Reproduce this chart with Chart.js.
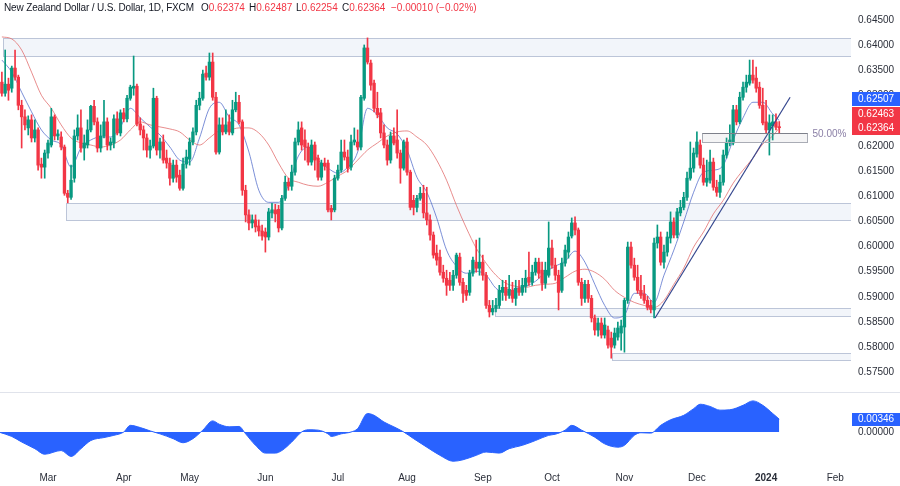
<!DOCTYPE html>
<html><head><meta charset="utf-8">
<script src="https://cdn.jsdelivr.net/npm/chart.js@4.4.1/dist/chart.umd.min.js"></script>
<style>
html,body{margin:0;padding:0;background:#fff;}
#wrap{position:relative;width:900px;height:486px;overflow:hidden;background:#fff;font-family:'Liberation Sans',Arial,sans-serif;}
#main{position:absolute;left:0;top:0;}
#osc{position:absolute;left:0;top:393px;}
#sep{position:absolute;left:0;top:392px;width:900px;height:1px;background:#e0e3eb;}
.h{position:absolute;top:1px;font-size:10px;line-height:13px;color:#131722;white-space:nowrap;}
.t{letter-spacing:-0.15px;}
.r{color:#f23645;}
</style></head><body>
<div id="wrap">
<canvas id="main" width="900" height="392"></canvas>
<div id="sep"></div>
<canvas id="osc" width="900" height="93"></canvas>
<div id="hdr"></div>
</div>
<script>
// ---------------- data ----------------
const symbolTitle = 'New Zealand Dollar / U.S. Dollar, 1D, FXCM';
const startIndex = -14; // bar index of first candle (0 = 1 Mar 2023)
const opens = [
0.6327,0.6305,0.6323,0.6315,0.6355,0.6337,0.6281,0.6258,0.6236,0.6252,
0.6216,0.6232,0.6164,0.6158,0.6186,0.6202,0.6258,0.6220,0.6218,0.6198,
0.6106,0.6098,0.6136,0.6220,0.6236,0.6196,0.6202,0.6232,0.6279,0.6248,
0.6196,0.6220,0.6248,0.6202,0.6206,0.6254,0.6226,0.6266,0.6254,0.6295,
0.6315,0.6319,0.6244,0.6232,0.6216,0.6192,0.6200,0.6295,0.6192,0.6208,
0.6176,0.6166,0.6136,0.6162,0.6142,0.6116,0.6164,0.6174,0.6208,0.6228,
0.6281,0.6295,0.6345,0.6337,0.6367,0.6297,0.6188,0.6242,0.6228,0.6248,
0.6226,0.6272,0.6287,0.6248,0.6112,0.6063,0.6047,0.6053,0.6041,0.6031,
0.6029,0.6019,0.6067,0.6073,0.6074,0.6037,0.6096,0.6128,0.6120,0.6148,
0.6208,0.6236,0.6212,0.6198,0.6168,0.6202,0.6176,0.6138,0.6166,0.6166,
0.6076,0.6073,0.6136,0.6152,0.6188,0.6178,0.6158,0.6208,0.6208,0.6198,
0.6295,0.6395,0.6365,0.6325,0.6275,0.6266,0.6226,0.6202,0.6172,0.6220,
0.6212,0.6186,0.6156,0.6208,0.6148,0.6092,0.6078,0.6096,0.6106,0.6067,
0.6053,0.6023,0.5987,0.5979,0.5949,0.5937,0.5933,0.5923,0.5943,0.5979,
0.5929,0.5913,0.5909,0.5947,0.5969,0.5957,0.5969,0.5943,0.5883,0.5870,
0.5877,0.5883,0.5909,0.5919,0.5903,0.5913,0.5897,0.5917,0.5909,0.5921,
0.5939,0.5929,0.5949,0.5969,0.5953,0.5927,0.5943,0.5997,0.5963,0.5943,
0.5913,0.5967,0.5989,0.6021,0.6047,0.6033,0.5929,0.5897,0.5925,0.5897,
0.5858,0.5834,0.5848,0.5824,0.5834,0.5818,0.5804,0.5820,0.5828,0.5840,
0.5893,0.5999,0.5963,0.5939,0.5913,0.5905,0.5893,0.5883,0.5874,0.6007,
0.6019,0.5969,0.5989,0.6017,0.6049,0.6023,0.6067,0.6078,0.6098,0.6136,
0.6156,0.6184,0.6202,0.6162,0.6128,0.6132,0.6168,0.6118,0.6108,0.6128,
0.6182,0.6206,0.6206,0.6272,0.6248,0.6297,0.6317,0.6325,0.6341,0.6335,
0.6317,0.6281,0.6248,0.6232,0.6240,0.6248,0.62374];
const highs = [
0.6347,0.6391,0.6335,0.6359,0.6391,0.6341,0.6291,0.6272,0.6260,0.6262,
0.6252,0.6236,0.6176,0.6192,0.6212,0.6275,0.6262,0.6232,0.6228,0.6202,
0.6112,0.6162,0.6232,0.6262,0.6272,0.6222,0.6252,0.6281,0.6291,0.6256,
0.6242,0.6291,0.6256,0.6216,0.6262,0.6268,0.6272,0.6275,0.6301,0.6321,
0.6379,0.6323,0.6256,0.6240,0.6224,0.6212,0.6315,0.6299,0.6216,0.6222,
0.6192,0.6176,0.6172,0.6172,0.6152,0.6176,0.6192,0.6216,0.6236,0.6291,
0.6307,0.6351,0.6359,0.6385,0.6385,0.6307,0.6256,0.6256,0.6272,0.6262,
0.6291,0.6307,0.6301,0.6252,0.6122,0.6073,0.6063,0.6063,0.6053,0.6043,
0.6037,0.6076,0.6086,0.6084,0.6082,0.6102,0.6140,0.6136,0.6162,0.6216,
0.6248,0.6248,0.6232,0.6206,0.6212,0.6208,0.6182,0.6172,0.6176,0.6172,
0.6082,0.6142,0.6162,0.6212,0.6212,0.6192,0.6222,0.6236,0.6232,0.6301,
0.6401,0.6415,0.6371,0.6331,0.6307,0.6275,0.6242,0.6212,0.6228,0.6236,
0.6272,0.6192,0.6212,0.6216,0.6152,0.6102,0.6102,0.6118,0.6122,0.6118,
0.6063,0.6029,0.6003,0.5993,0.5963,0.5953,0.5949,0.5953,0.5987,0.5987,
0.5937,0.5923,0.5953,0.5979,0.6013,0.6017,0.5983,0.5949,0.5893,0.5893,
0.5897,0.5923,0.5933,0.5933,0.5943,0.5929,0.5933,0.5933,0.5937,0.5953,
0.5989,0.5963,0.5977,0.5977,0.5969,0.5969,0.6049,0.6013,0.5977,0.5953,
0.5977,0.6003,0.6029,0.6057,0.6059,0.6037,0.5937,0.5933,0.5933,0.5903,
0.5864,0.5858,0.5858,0.5858,0.5842,0.5830,0.5838,0.5850,0.5854,0.5897,
0.6009,0.6009,0.5977,0.5963,0.5943,0.5923,0.5901,0.5893,0.6017,0.6043,
0.6029,0.6003,0.6029,0.6069,0.6057,0.6076,0.6092,0.6108,0.6148,0.6208,
0.6196,0.6228,0.6212,0.6176,0.6172,0.6192,0.6176,0.6132,0.6142,0.6192,
0.6216,0.6242,0.6281,0.6281,0.6307,0.6327,0.6341,0.6371,0.6371,0.6357,
0.6327,0.6315,0.6291,0.6262,0.6262,0.6264,0.62487];
const lows = [
0.6299,0.6299,0.6291,0.6307,0.6331,0.6272,0.6196,0.6232,0.6222,0.6208,
0.6208,0.6152,0.6136,0.6136,0.6176,0.6198,0.6212,0.6212,0.6192,0.6102,
0.6087,0.6094,0.6128,0.6212,0.6188,0.6172,0.6196,0.6228,0.6242,0.6188,
0.6188,0.6216,0.6192,0.6192,0.6196,0.6222,0.6220,0.6248,0.6248,0.6291,
0.6301,0.6240,0.6222,0.6192,0.6178,0.6176,0.6196,0.6182,0.6176,0.6166,
0.6156,0.6122,0.6128,0.6128,0.6112,0.6112,0.6156,0.6162,0.6202,0.6222,
0.6272,0.6291,0.6331,0.6331,0.6291,0.6184,0.6184,0.6222,0.6224,0.6222,
0.6222,0.6268,0.6244,0.6102,0.6049,0.6033,0.6037,0.6029,0.6021,0.6013,
0.5989,0.6013,0.6057,0.6049,0.6029,0.6033,0.6092,0.6112,0.6112,0.6142,
0.6202,0.6192,0.6172,0.6162,0.6162,0.6152,0.6132,0.6132,0.6152,0.6069,
0.6053,0.6069,0.6132,0.6148,0.6172,0.6148,0.6152,0.6202,0.6192,0.6192,
0.6291,0.6363,0.6311,0.6268,0.6256,0.6216,0.6196,0.6162,0.6166,0.6202,
0.6176,0.6126,0.6152,0.6142,0.6073,0.6063,0.6069,0.6092,0.6057,0.6043,
0.6013,0.5977,0.5963,0.5943,0.5929,0.5903,0.5913,0.5913,0.5937,0.5923,
0.5889,0.5893,0.5903,0.5941,0.5949,0.5943,0.5933,0.5877,0.5860,0.5864,
0.5870,0.5877,0.5893,0.5893,0.5897,0.5889,0.5883,0.5903,0.5903,0.5909,
0.5923,0.5923,0.5943,0.5937,0.5913,0.5917,0.5939,0.5957,0.5933,0.5874,
0.5909,0.5961,0.5977,0.6017,0.6023,0.5923,0.5883,0.5889,0.5889,0.5850,
0.5824,0.5822,0.5818,0.5818,0.5798,0.5778,0.5798,0.5814,0.5794,0.5790,
0.5887,0.5957,0.5933,0.5907,0.5897,0.5887,0.5874,0.5868,0.5858,0.5997,
0.5963,0.5957,0.5981,0.6007,0.6017,0.6017,0.6061,0.6073,0.6092,0.6132,
0.6148,0.6178,0.6156,0.6122,0.6120,0.6126,0.6112,0.6100,0.6098,0.6122,
0.6176,0.6200,0.6202,0.6242,0.6244,0.6291,0.6307,0.6321,0.6325,0.6307,
0.6275,0.6242,0.6226,0.6182,0.6212,0.6232,0.62254];
const closes = [
0.6305,0.6323,0.6311,0.6355,0.6337,0.6281,0.6258,0.6242,0.6252,0.6216,
0.6232,0.6162,0.6158,0.6186,0.6206,0.6258,0.6220,0.6224,0.6198,0.6106,
0.6098,0.6132,0.6220,0.6236,0.6196,0.6206,0.6232,0.6279,0.6248,0.6196,
0.6220,0.6248,0.6202,0.6208,0.6254,0.6226,0.6266,0.6254,0.6295,0.6317,
0.6319,0.6244,0.6232,0.6216,0.6192,0.6200,0.6295,0.6192,0.6208,0.6172,
0.6166,0.6136,0.6162,0.6138,0.6116,0.6164,0.6178,0.6208,0.6228,0.6281,
0.6295,0.6343,0.6337,0.6367,0.6297,0.6188,0.6242,0.6228,0.6242,0.6228,
0.6272,0.6287,0.6248,0.6112,0.6063,0.6047,0.6053,0.6039,0.6031,0.6021,
0.6019,0.6069,0.6073,0.6065,0.6037,0.6096,0.6128,0.6120,0.6148,0.6208,
0.6232,0.6202,0.6198,0.6168,0.6202,0.6172,0.6138,0.6166,0.6160,0.6073,
0.6069,0.6136,0.6152,0.6188,0.6178,0.6156,0.6208,0.6212,0.6198,0.6297,
0.6395,0.6367,0.6321,0.6275,0.6262,0.6226,0.6202,0.6172,0.6220,0.6206,
0.6186,0.6156,0.6208,0.6148,0.6078,0.6078,0.6096,0.6106,0.6067,0.6053,
0.6023,0.5983,0.5973,0.5949,0.5937,0.5923,0.5923,0.5943,0.5983,0.5929,
0.5907,0.5903,0.5947,0.5973,0.5957,0.5969,0.5943,0.5883,0.5870,0.5877,
0.5883,0.5913,0.5919,0.5903,0.5915,0.5897,0.5917,0.5909,0.5923,0.5937,
0.5929,0.5949,0.5969,0.5947,0.5927,0.5953,0.5997,0.5963,0.5943,0.5909,
0.5967,0.5993,0.6019,0.6047,0.6033,0.5929,0.5897,0.5925,0.5897,0.5858,
0.5834,0.5848,0.5824,0.5844,0.5804,0.5800,0.5828,0.5838,0.5842,0.5893,
0.5999,0.5963,0.5939,0.5913,0.5903,0.5893,0.5879,0.5875,0.6007,0.6019,
0.5969,0.5989,0.6019,0.6049,0.6023,0.6069,0.6078,0.6098,0.6136,0.6156,
0.6186,0.6208,0.6162,0.6128,0.6136,0.6168,0.6118,0.6108,0.6128,0.6182,
0.6206,0.6212,0.6272,0.6248,0.6297,0.6317,0.6327,0.6341,0.6331,0.6315,
0.6281,0.6246,0.6232,0.6246,0.6248,0.62374,0.62364];

// moving averages, read at these bar positions
const maIdx = [-14,-11,-8,-5,-2,1,4,7,10,13,16,19,22,25,28,31,34,37,40,43,46,49,52,55,58,61,64,67,70,73,76,79,82,85,88,91,94,97,100,103,106,109,112,115,118,121,124,127,130,133,136,139,142,145,148,151,154,157,160,163,166,169,172,175,178,181,184,187,190,193,196,199,202,205,208,211,214,217,220,222];
const fastMA = [
0.6371,0.6347,0.6307,0.6268,0.6232,0.6212,0.6202,0.6158,0.6196,0.6212,
0.6218,0.6218,0.6238,0.6275,0.6256,0.6238,0.6222,0.6198,0.6172,0.6168,
0.6216,0.6275,0.6287,0.6258,0.6242,0.6188,0.6112,0.6088,0.6088,0.6122,
0.6180,0.6198,0.6172,0.6156,0.6146,0.6158,0.6188,0.6275,0.6262,0.6236,
0.6224,0.6192,0.6138,0.6108,0.6057,0.5993,0.5961,0.5947,0.5951,0.5943,
0.5917,0.5909,0.5917,0.5921,0.5931,0.5949,0.5961,0.5971,0.5991,0.5969,
0.5925,0.5883,0.5858,0.5864,0.5907,0.5907,0.5889,0.5943,0.5993,0.6049,
0.6108,0.6148,0.6152,0.6162,0.6212,0.6256,0.6287,0.6287,0.6264,0.62507];
const slowMA = [
0.6417,0.6413,0.6391,0.6347,0.6301,0.6275,0.6242,0.6216,0.6206,0.6202,
0.6198,0.6202,0.6212,0.6232,0.6248,0.6242,0.6238,0.6234,0.6228,0.6212,
0.6202,0.6216,0.6230,0.6232,0.6236,0.6236,0.6226,0.6202,0.6166,0.6136,
0.6128,0.6122,0.6120,0.6128,0.6140,0.6152,0.6172,0.6192,0.6206,0.6220,
0.6228,0.6230,0.6218,0.6202,0.6172,0.6132,0.6082,0.6037,0.5997,0.5967,
0.5943,0.5927,0.5921,0.5919,0.5923,0.5925,0.5927,0.5939,0.5951,0.5955,
0.5949,0.5935,0.5913,0.5899,0.5889,0.5883,0.5879,0.5893,0.5925,0.5957,
0.5999,0.6029,0.6065,0.6092,0.6126,0.6152,0.6176,0.6204,0.6220,0.6236];
const axisMarks = [0.62507, 0.62463]; // blue / red value tags on the price axis

// oscillator (lower pane)
const oscIdx = [-15,-11,-8,-4,-1,4,7,10,13,17,20,23,25,28,31,34,38,41,44,47,50,52,55,58,60,63,66,69,71,74,77,79,82,85,86,89,92,94,97,99,102,105,108,111,115,119,123,126,130,133,137,140,144,148,152,154,157,159,162,166,169,173,175,178,180,183,186,189,193,196,198,201,204,207,211,214,217,220,222];
const oscVal = [0.0000,-0.0012,-0.0027,-0.0045,-0.0060,-0.0050,-0.0066,-0.0045,-0.0023,-0.0015,
-0.0009,0.0000,0.0018,0.0012,0.0003,-0.0005,-0.0018,-0.0029,-0.0018,0.0005,
0.0030,0.0021,0.0014,0.0015,-0.0005,-0.0036,-0.0057,-0.0057,-0.0050,-0.0027,
0.0000,0.0006,0.0005,-0.0005,-0.0012,-0.0005,0.0000,0.0009,0.0050,0.0045,
0.0027,0.0014,0.0000,-0.0018,-0.0041,-0.0063,-0.0079,-0.0075,-0.0063,-0.0054,
-0.0057,-0.0045,-0.0036,-0.0023,-0.0009,-0.0006,0.0005,0.0018,0.0005,-0.0014,
-0.0032,-0.0041,-0.0036,-0.0009,-0.0002,-0.0003,0.0018,0.0033,0.0045,0.0063,
0.0075,0.0069,0.0059,0.0060,0.0072,0.0084,0.0072,0.0050,0.00346];
const oscTicks = [0];

// drawings
const zoneStart  = [-13.7, 5.5, 135.7, 171.2];
const zoneTop    = [0.6415, 0.6086, 0.5878, 0.5788];
const zoneBottom = [0.6379, 0.6053, 0.5861, 0.5774];
const fibStart = 198.5, fibEnd = 230.4, fibTop = 0.6226, fibBottom = 0.6208, fibLabel = '50.00%';
const trendIdx = [184.3, 225.3];
const trendVal = [0.5858, 0.6297];

// axes
const priceTicks = [0.575,0.58,0.585,0.59,0.595,0.6,0.605,0.61,0.615,0.62,0.625,0.63,0.635,0.64,0.645];
const monthTickIdx = [0,23,43,66,88,109,132,153,175,197,218,239];
const monthTickLabels = ['Mar','Apr','May','Jun','Jul','Aug','Sep','Oct','Nov','Dec','2024','Feb'];

// ---------------- layout constants ----------------
const X_MIN = -14.57, X_MAX = 243.78;
const Y_MIN = 0.57108, Y_MAX = 0.64904;
const O_MIN = -0.01026, O_MAX = 0.01053;
const AXIS_W = 49;
const UP = '#089981', DN = '#f23645';
const FONT = "'Liberation Sans', Arial, sans-serif";
const TXT = '#2a2e39';

Chart.defaults.font.family = FONT;
Chart.defaults.font.size = 10;

// ---------------- header ----------------
const last = closes.length - 1;
const chg = closes[last] - closes[last - 1];
const pct = chg / closes[last - 1] * 100;
const fmt = v => (v < 0 ? '\u2212' : '') + Math.abs(v).toFixed(5);
const hdr = document.getElementById('hdr');
const parts = [
  [4, symbolTitle, '', 't'],
  [201, 'O', opens[last].toFixed(5), ''],
  [249, 'H', highs[last].toFixed(5), ''],
  [296, 'L', lows[last].toFixed(5), ''],
  [342, 'C', closes[last].toFixed(5), ''],
  [391, '', fmt(chg) + ' (' + (pct < 0 ? '\u2212' : '') + Math.abs(pct).toFixed(2) + '%)', '']
];
parts.forEach(p => {
  const d = document.createElement('div');
  d.className = 'h ' + p[3]; d.style.left = p[0] + 'px';
  d.innerHTML = p[1] + (p[2] ? '<span class="r">' + p[2] + '</span>' : '');
  hdr.appendChild(d);
});

// ---------------- main chart ----------------
const candleIdx = opens.map((_, k) => startIndex + k);
const colors = closes.map((c, k) => c >= opens[k] ? UP : DN);

const drawPlugin = {
  id: 'drawings',
  beforeDatasetsDraw(chart) {
    const {ctx, chartArea: a, scales: {x, y}} = chart;
    ctx.save();
    ctx.beginPath(); ctx.rect(a.left, a.top, a.right - a.left, a.bottom - a.top); ctx.clip();
    for (let k = 0; k < zoneStart.length; k++) {
      const x0 = Math.round(x.getPixelForValue(zoneStart[k])) + 0.5;
      const y0 = Math.round(y.getPixelForValue(zoneTop[k])) + 0.5;
      const y1 = Math.round(y.getPixelForValue(zoneBottom[k])) + 0.5;
      const w = a.right + 10 - x0;
      ctx.fillStyle = 'rgba(226,232,245,0.45)';
      ctx.fillRect(x0, y0, w, y1 - y0);
      ctx.strokeStyle = '#bcc5d8'; ctx.lineWidth = 1;
      ctx.strokeRect(x0, y0, w, y1 - y0);
    }
    ctx.restore();
  },
  afterDatasetsDraw(chart) {
    const {ctx, scales: {x, y}} = chart;
    const x0 = Math.round(x.getPixelForValue(fibStart)) + 0.5;
    const x1 = Math.round(x.getPixelForValue(fibEnd)) + 0.5;
    const y0 = Math.round(y.getPixelForValue(fibTop)) + 0.5;
    const y1 = Math.round(y.getPixelForValue(fibBottom)) + 0.5;
    ctx.save();
    ctx.fillStyle = 'rgba(149,152,161,0.10)';
    ctx.fillRect(x0, y0, x1 - x0, y1 - y0);
    ctx.strokeStyle = '#a9acb5'; ctx.lineWidth = 1;
    ctx.strokeRect(x0, y0, x1 - x0, y1 - y0);
    ctx.strokeStyle = '#7d808a';
    ctx.beginPath(); ctx.moveTo(x0, y0); ctx.lineTo(x1, y0); ctx.stroke();
    ctx.fillStyle = '#8a7fa6';
    ctx.font = '10px ' + FONT; ctx.textBaseline = 'middle'; ctx.textAlign = 'left';
    ctx.fillText(fibLabel, x1 + 5, y0 + 1);
    ctx.restore();
  },
  afterDraw(chart) {
    const {ctx, chartArea: a, scales: {y}} = chart;
    const h = 13.5;
    const yc = y.getPixelForValue(closes[last]);
    const tags = [
      {v: closes[last], c: DN, y: yc},
      {v: axisMarks[1], c: DN, y: yc - h},
      {v: axisMarks[0], c: '#2962ff', y: yc - 2 * h - 1.5}
    ];
    ctx.save();
    ctx.font = '10px ' + FONT; ctx.textBaseline = 'middle'; ctx.textAlign = 'left';
    tags.forEach(t => {
      ctx.fillStyle = t.c;
      ctx.fillRect(a.right + 1, Math.round(t.y - h / 2), 48, Math.round(h));
      ctx.fillStyle = '#ffffff';
      ctx.fillText(t.v.toFixed(5), a.right + 7, t.y + 0.5);
    });
    ctx.restore();
  }
};

new Chart(document.getElementById('main'), {
  type: 'bar',
  data: {
    datasets: [
      {type: 'line', label: 'fast MA', data: maIdx.map((v, k) => ({x: v, y: fastMA[k]})),
       borderColor: 'rgba(90,115,205,0.8)', borderWidth: 1, pointRadius: 0, cubicInterpolationMode: 'monotone', order: 6},
      {type: 'line', label: 'slow MA', data: maIdx.map((v, k) => ({x: v, y: slowMA[k]})),
       borderColor: 'rgba(226,112,112,0.8)', borderWidth: 1, pointRadius: 0, cubicInterpolationMode: 'monotone', order: 5},
      {type: 'bar', label: 'wicks', data: candleIdx.map((v, k) => ({x: v, y: [lows[k], highs[k]]})),
       backgroundColor: colors, barThickness: 1, grouped: false, order: 3},
      {type: 'bar', label: 'bodies', data: candleIdx.map((v, k) => ({x: v, y: [opens[k], closes[k]]})),
       backgroundColor: colors, barThickness: 2.7, grouped: false, minBarLength: 1, order: 2},
      {type: 'line', label: 'trend', data: trendIdx.map((v, k) => ({x: v, y: trendVal[k]})),
       borderColor: '#34468e', borderWidth: 1.2, pointRadius: 0, order: 1}
    ]
  },
  options: {
    responsive: false, animation: false, devicePixelRatio: 1, events: [],
    layout: {padding: 0},
    plugins: {legend: {display: false}, tooltip: {enabled: false}},
    scales: {
      x: {type: 'linear', min: X_MIN, max: X_MAX, display: false, offset: false},
      y: {
        position: 'right', min: Y_MIN, max: Y_MAX,
        grid: {display: false, drawTicks: false}, border: {display: false},
        afterBuildTicks: s => { s.ticks = priceTicks.map(v => ({value: v})); },
        afterFit: s => { s.width = AXIS_W; s.paddingTop = 0; s.paddingBottom = 0; },
        ticks: {padding: 7, color: TXT, font: {size: 10}, callback: v => Number(v).toFixed(5)}
      }
    }
  },
  plugins: [drawPlugin]
});

// ---------------- oscillator chart ----------------
const oscPlugin = {
  id: 'oscTag',
  afterDraw(chart) {
    const {ctx, chartArea: a, scales: {y}} = chart;
    const v = oscVal[oscVal.length - 1];
    const yy = y.getPixelForValue(v);
    ctx.save();
    ctx.fillStyle = '#2962ff';
    ctx.fillRect(a.right + 1, Math.round(yy - 6.5), 48, 13);
    ctx.fillStyle = '#fff'; ctx.font = '10px ' + FONT; ctx.textBaseline = 'middle';
    ctx.fillText(v.toFixed(5), a.right + 7, yy + 0.5);
    ctx.restore();
  }
};

new Chart(document.getElementById('osc'), {
  type: 'line',
  data: {
    datasets: [{
      data: oscIdx.map((v, k) => ({x: v, y: oscVal[k]})),
      borderColor: '#2962ff', borderWidth: 1, backgroundColor: '#2962ff',
      fill: 'origin', pointRadius: 0, cubicInterpolationMode: 'monotone'
    }]
  },
  options: {
    responsive: false, animation: false, devicePixelRatio: 1, events: [],
    layout: {padding: 0},
    plugins: {legend: {display: false}, tooltip: {enabled: false}},
    scales: {
      x: {
        type: 'linear', min: X_MIN, max: X_MAX, offset: false,
        grid: {display: false, drawTicks: false}, border: {display: false},
        afterBuildTicks: s => { s.ticks = monthTickIdx.map(v => ({value: v})); },
        afterFit: s => { s.paddingLeft = 0; s.paddingRight = 0; },
        ticks: {
          autoSkip: false, maxRotation: 0, padding: 2, color: TXT,
          font: c => ({size: 10, weight: monthTickLabels[c.index] === '2024' ? 'bold' : 'normal'}),
          callback: (v, i) => monthTickLabels[i]
        }
      },
      y: {
        position: 'right', min: O_MIN, max: O_MAX,
        grid: {display: false, drawTicks: false}, border: {display: false},
        afterBuildTicks: s => { s.ticks = oscTicks.map(v => ({value: v})); },
        afterFit: s => { s.width = AXIS_W; s.paddingTop = 0; s.paddingBottom = 0; },
        ticks: {padding: 7, color: TXT, font: {size: 10}, callback: v => Number(v).toFixed(5)}
      }
    }
  },
  plugins: [oscPlugin]
});
</script>
</body></html>
